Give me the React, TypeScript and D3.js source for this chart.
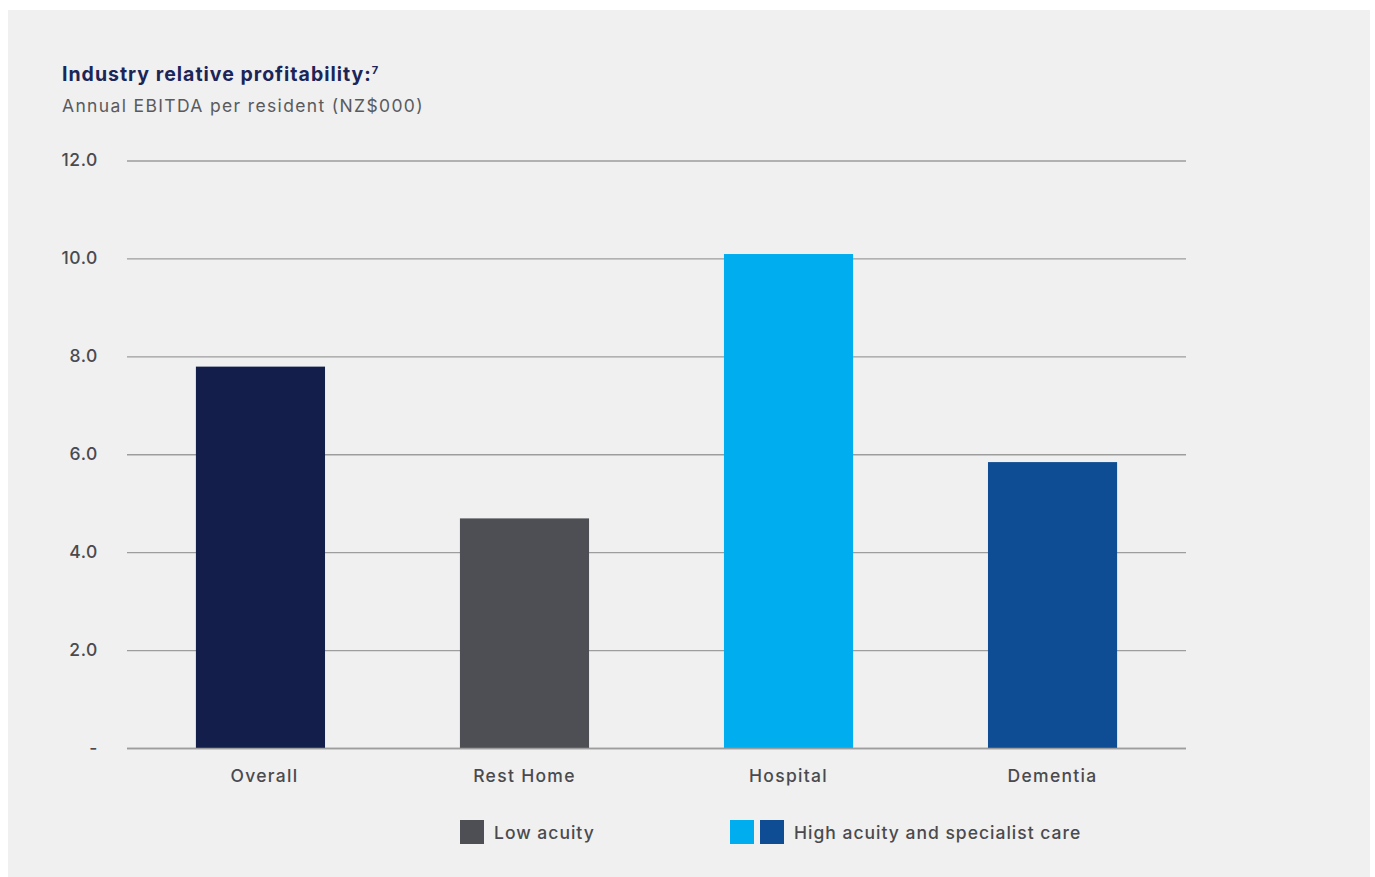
import React from "react";
import * as d3 from "d3";

const categories = ["Overall", "Rest Home", "Hospital", "Dementia"];
const values = [7.8, 4.7, 10.1, 5.85];
const barColors = ["#131E4A", "#4E4F54", "#00AEEF", "#0E4C93"];
const yTicks = [0, 2, 4, 6, 8, 10, 12];
const legendItems = [
  { label: "Low acuity", colors: ["#4E4F54"] },
  { label: "High acuity and specialist care", colors: ["#00AEEF", "#0E4C93"] },
];

const W = 1375;
const H = 877;
const FONT = "Inter, 'Noto Sans', sans-serif";

export default function App() {
  const x = d3
    .scaleBand<string>()
    .domain(categories)
    .range([127, 1186])
    .paddingInner(0.511)
    .paddingOuter(0.261);
  const y = d3.scaleLinear().domain([0, 12]).range([748.5, 161]);
  const legendX = [460, 730];

  return (
    <svg
      width={W}
      height={H}
      style={{ position: "absolute", left: 0, top: 0, display: "block" }}
    >
      <rect x={0} y={0} width={W} height={H} fill="#ffffff" />
      <rect x={8} y={10} width={1362} height={H - 10} fill="#EFF0EF" />
      <text x={62} y={81} fontFamily={FONT} fontSize={19.5} fontWeight={700} fill="#1B2557" letterSpacing={1.0}>
        Industry relative profitability:
        <tspan fontSize={11} dy={-7}>7</tspan>
      </text>
      <text x={62} y={112} fontFamily={FONT} fontSize={17.5} fill="#5a5a5e" letterSpacing={1.35}>
        Annual EBITDA per resident (NZ$000)
      </text>
      {yTicks.map((t) => (
        <g key={t}>
          <line x1={127} x2={1186} y1={y(t)} y2={y(t)} stroke="#9d9d9d" strokeWidth={1.3} />
          <text
            x={98}
            y={y(t) + 5}
            textAnchor="end"
            fontFamily={FONT}
            fontSize={17.5}
            fontWeight={500}
            fill="#4a4a4e"
            letterSpacing={0.6}
          >
            {t === 0 ? "-" : d3.format(".1f")(t)}
          </text>
        </g>
      ))}
      {categories.map((c, i) => (
        <g key={c}>
          <rect
            x={x(c)}
            y={y(values[i])}
            width={x.bandwidth()}
            height={y(0) - y(values[i])}
            fill={barColors[i]}
          />
          <text
            x={(x(c) as number) + x.bandwidth() / 2 + (i === 0 ? 4 : 0)}
            y={782}
            textAnchor="middle"
            fontFamily={FONT}
            fontSize={17.5}
            fontWeight={500}
            fill="#4a4a4e"
            letterSpacing={1.3}
          >
            {c}
          </text>
        </g>
      ))}
      <line x1={127} x2={1186} y1={y(0)} y2={y(0)} stroke="#9d9d9d" strokeWidth={1.3} />
      {legendItems.map((item, i) => (
        <g key={item.label} transform={`translate(${legendX[i]},820)`}>
          {item.colors.map((col, j) => (
            <rect key={col} x={j * 30} y={0} width={24} height={24} fill={col} />
          ))}
          <text
            x={item.colors.length * 30 + 4}
            y={19}
            fontFamily={FONT}
            fontSize={17.5}
            fontWeight={500}
            fill="#4a4a4e"
            letterSpacing={1.0}
          >
            {item.label}
          </text>
        </g>
      ))}
    </svg>
  );
}
